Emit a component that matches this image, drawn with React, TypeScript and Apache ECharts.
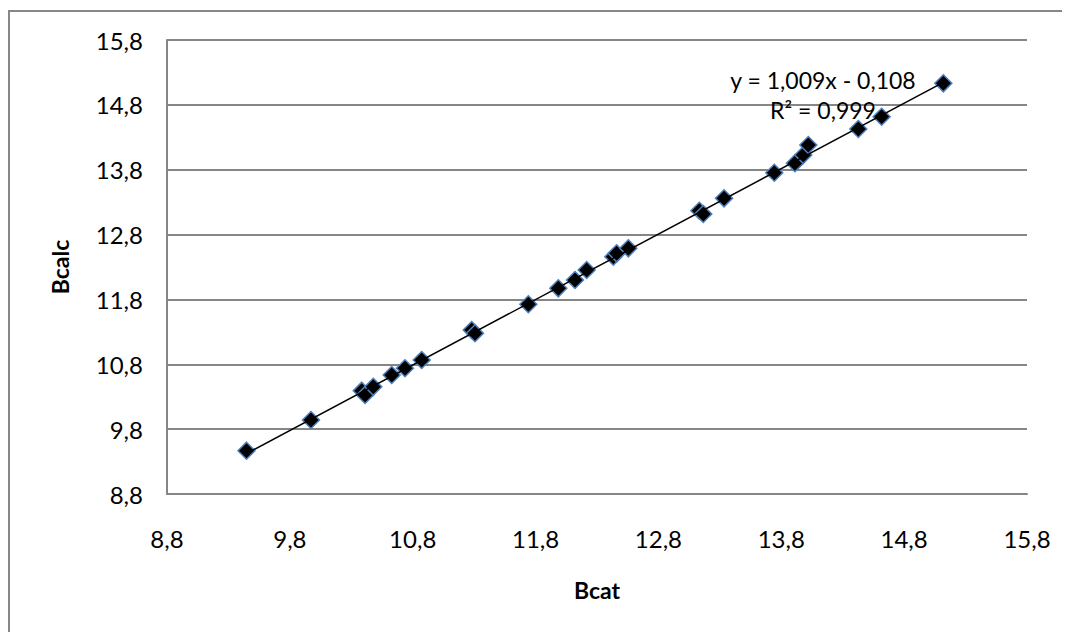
import React, { useEffect, useRef } from "react";
import * as echarts from "echarts";

const bcat = [9.447, 9.972, 10.385, 10.412, 10.479, 10.629, 10.737, 10.873, 11.28, 11.307, 11.741, 11.985, 12.121, 12.216, 12.433, 12.46, 12.555, 13.133, 13.165, 13.334, 13.743, 13.911, 13.979, 14.02, 14.427, 14.617, 15.119];
const bcalc = [9.468, 9.941, 10.393, 10.326, 10.454, 10.635, 10.738, 10.866, 11.329, 11.278, 11.725, 11.971, 12.099, 12.254, 12.459, 12.511, 12.588, 13.168, 13.117, 13.359, 13.754, 13.899, 14.027, 14.181, 14.428, 14.617, 15.132];
const trendSlope = 1.009;
const trendIntercept = -0.108;
const rSquared = "0,999";
const axisMin = 8.8;
const axisMax = 15.8;
const axisStep = 1;
const xName = "Bcat";
const yName = "Bcalc";

const FONT = 'Lato, "Liberation Sans", sans-serif';

export default function App() {
  const ref = useRef<HTMLDivElement>(null);
  useEffect(() => {
    document.body.style.overflow = "hidden";
    const chart = echarts.init(ref.current!, null, { renderer: "svg" });
    const points = bcat.map((x, i) => [x, bcalc[i]]);
    const xMin = Math.min(...bcat);
    const xMax = Math.max(...bcat);
    const trend = [xMin, xMax].map((x) => [x, trendSlope * x + trendIntercept]);
    const fmt = (v: number) => v.toFixed(1).replace(".", ",");
    const eqText =
      "y = " +
      trendSlope.toFixed(3).replace(".", ",") +
      "x " +
      (trendIntercept < 0 ? "- " : "+ ") +
      Math.abs(trendIntercept).toFixed(3).replace(".", ",");
    const axisCommon = {
      type: "value",
      min: axisMin,
      max: axisMax,
      interval: axisStep,
      axisTick: { show: false },
      axisLine: { show: true, lineStyle: { color: "#868686", width: 2 } },
      splitLine: { show: false },
      axisLabel: { color: "#000", fontFamily: FONT, fontSize: 24, formatter: fmt },
      nameLocation: "middle",
      nameTextStyle: { color: "#000", fontFamily: FONT, fontSize: 23, fontWeight: "bold" },
    };
    const textStyle = (text: string) => ({
      text,
      font: `23px ${FONT}`,
      fill: "#000",
      align: "center",
      verticalAlign: "middle",
      textAlign: "center",
      textVerticalAlign: "middle",
    });
    chart.setOption({
      animation: false,
      backgroundColor: "#fff",
      grid: { left: 159, top: 32, width: 860, height: 454, containLabel: false },
      xAxis: {
        ...axisCommon,
        name: xName,
        nameGap: 84,
        axisLabel: { ...axisCommon.axisLabel, margin: 32 },
      },
      yAxis: {
        ...axisCommon,
        name: yName,
        nameGap: 96,
        nameRotate: 90,
        axisLabel: { ...axisCommon.axisLabel, margin: 24 },
        splitLine: { show: true, lineStyle: { color: "#868686", width: 2 } },
      },
      graphic: [
        {
          type: "line",
          shape: { x1: 1, y1: 3, x2: 1, y2: 700 },
          style: { stroke: "#878787", lineWidth: 2 },
          silent: true,
        },
        {
          type: "line",
          shape: { x1: 0, y1: 3, x2: 1100, y2: 3 },
          style: { stroke: "#878787", lineWidth: 2 },
          silent: true,
        },
        { type: "text", x: 815, y: 71.5, z: 100, style: textStyle(eqText) },
        { type: "text", x: 815, y: 101.5, z: 100, style: textStyle("R² = " + rSquared) },
      ],
      series: [
        {
          type: "scatter",
          data: points,
          symbol: "diamond",
          symbolSize: 17,
          itemStyle: { color: "#000", borderColor: "#4f81bd", borderWidth: 1.5, opacity: 1 },
          z: 2,
        },
        {
          type: "line",
          data: trend,
          showSymbol: false,
          symbol: "none",
          lineStyle: { color: "#000", width: 1.5 },
          z: 3,
        },
      ],
    });
    return () => chart.dispose();
  }, []);
  return <div ref={ref} style={{ width: 1062, height: 624 }} />;
}
